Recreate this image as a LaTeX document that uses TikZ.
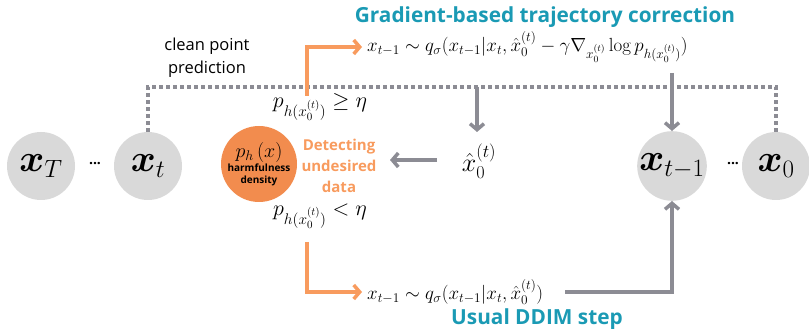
\RequirePackage{fix-cm}
\documentclass[tikz,border=0pt]{standalone}
\usepackage{amsmath,amssymb}
\usepackage[no-math]{fontspec}
\setmainfont{Open Sans}
\usetikzlibrary{arrows.meta}
\definecolor{cgray}{HTML}{D9D9D9}
\definecolor{lgray}{HTML}{8C8C94}
\definecolor{corange}{HTML}{F28C4E}
\definecolor{lorange}{HTML}{F89B5E}
\definecolor{cteal}{HTML}{1A9AB4}
\newcommand{\bigsub}[1]{\mbox{\fontsize{25}{28}\selectfont$#1$}}
\tikzset{
  gc/.style={circle,fill=cgray,minimum size=68pt,inner sep=0pt,font=\fontsize{38}{42}\selectfont},
  dotsn/.style={font=\bfseries\fontsize{14}{16}\selectfont},
  dotline/.style={lgray,line width=3.5pt,dash pattern=on 3.5pt off 3.5pt},
  garrow/.style={lgray,line width=3.5pt,-{Straight Barb[length=6pt,width=14pt]}},
  oarrow/.style={lorange,line width=3.5pt,-{Straight Barb[length=6pt,width=14pt]}},
  ttl/.style={text=cteal,font=\bfseries\fontsize{20.8}{24}\selectfont},
  frm/.style={inner sep=1pt,font=\fontsize{19}{21}\selectfont},
}
\begin{document}
\begin{tikzpicture}[x=1pt,y=-1pt]
\useasboundingbox (0,0) rectangle (809,331);
% nodes of the chain
\node[gc] (xT) at (41,166) {$\boldsymbol{x}_{\bigsub{T}}$};
\node[gc] (xt) at (148,166) {$\boldsymbol{x}_{\bigsub{t}}$};
\node[dotsn] (d1) at (95,164) {...};
\node[gc] (xtm) at (672,166) {$\boldsymbol{x}_{\bigsub{t{-}1}}$};
\node[gc] (x0) at (776,166) {$\boldsymbol{x}_{\bigsub{0}}$};
\node[dotsn] (d2) at (733,164) {...};
\coordinate (dl) at (148,87);
\coordinate (dr) at (776,87);
\draw[dotline] (xt.north) -- (dl) -- (dr) -- (x0.north);
% harmfulness circle
\node[circle,fill=corange,minimum size=76pt,inner sep=0pt] (ph) at (259,164) {};
\node[font=\fontsize{20}{22}\selectfont] (phl) at (259,153) {$p_h\left(x\right)$};
\node[align=center,font=\bfseries\fontsize{10}{12}\selectfont] (phs) at (259,175) {harmfulness\\density};
% detecting
\node[align=center,text=lorange,font=\bfseries\fontsize{15}{21}\selectfont] (det) at (339,166) {Detecting\\undesired\\data};
% hat x
\node[font=\fontsize{26}{28}\selectfont] (xh) at (479,161) {$\hat{x}_0^{(t)}$};
\coordinate (ga1) at (437,160);
\coordinate (ga2) at (390,160);
\draw[garrow] (ga1) -- (ga2);
\coordinate (hd1) at (477,87);
\coordinate (hd2) at (477,132);
\draw[garrow] (hd1) -- (hd2);
% conditions
\node[font=\fontsize{22}{24}\selectfont] (ge) at (320,107) {$p_{h(x_0^{(t)})}\geq\eta$};
\node[font=\fontsize{22}{24}\selectfont] (lt) at (320,216) {$p_{h(x_0^{(t)})}<\eta$};
% formulas
\node[frm,anchor=west] (ftop) at (366,47) {$x_{t-1}\sim q_\sigma(x_{t-1}|x_t,\hat{x}_0^{(t)}-\gamma\nabla_{x_0^{(t)}}\log p_{h(x_0^{(t)})})$};
\node[frm,anchor=west] (fbot) at (366,292) {$x_{t-1}\sim q_\sigma(x_{t-1}|x_t,\hat{x}_0^{(t)})$};
% orange arrows
\coordinate (ot1) at (307,96);
\coordinate (ot2) at (307,47);
\draw[oarrow] (ot1) -- (ot2) -- ([xshift=-4pt]ftop.west);
\coordinate (ob1) at (307,242);
\coordinate (ob2) at (307,292);
\draw[oarrow] (ob1) -- (ob2) -- ([xshift=-4pt]fbot.west);
% gray arrows to x_{t-1}
\coordinate (tg1) at (672,73);
\draw[garrow] (tg1) -- (xtm.north);
\coordinate (bg1) at (565,292);
\draw[garrow] (bg1) -| (xtm.south);
% titles
\node[ttl] (title) at (545,17) {Gradient-based trajectory correction};
\node[ttl] (ddim) at (537,319) {Usual DDIM step};
\node[align=center,font=\fontsize{16.5}{23}\selectfont] (cp) at (207,58) {clean point\\prediction};
\end{tikzpicture}
\end{document}
